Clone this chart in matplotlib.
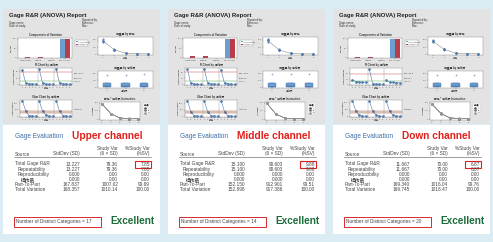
import matplotlib
matplotlib.use('Agg')
import matplotlib.pyplot as plt
from matplotlib.patches import Rectangle
import numpy as np

W, H = 493, 242

# ---------------- data ----------------
channels = ['Upper channel', 'Middle channel', 'Down channel']
sources = ['Total Gage R&R', 'Repeatability', 'Reproducibility', '操作员',
           'Part-To-Part', 'Total Variation']
stddev = [[13.227, 13.227, 0.000, 0.000, 167.837, 168.357],
          [15.100, 15.100, 0.000, 0.000, 152.150, 152.898],
          [11.667, 11.667, 0.000, 0.000, 169.340, 169.745]]
study_var = [[79.36, 79.36, 0.00, 0.00, 1007.02, 1010.14],
             [90.603, 90.603, 0.000, 0.000, 912.901, 917.386],
             [70.00, 70.00, 0.00, 0.00, 1016.04, 1018.47]]
study_var_dec = [2, 3, 2]
pct_sv = [[7.85, 7.85, 0.00, 0.00, 99.69, 100.00],
          [9.88, 9.88, 0.00, 0.00, 99.51, 100.00],
          [6.87, 6.87, 0.00, 0.00, 99.76, 100.00]]
ndc = [17, 14, 20]
rating = ['Excellent', 'Excellent', 'Excellent']

comp_cats = ['Gage R&R', 'Repeat', 'Reprod', 'Part-to-Part']
contrib = [[0.62, 0.62, 0.00, 99.38],
           [0.98, 0.98, 0.00, 99.02],
           [0.47, 0.47, 0.00, 99.53]]
comp_sv = [[7.85, 7.85, 0.00, 99.69],
           [9.88, 9.88, 0.00, 99.51],
           [6.87, 6.87, 0.00, 99.76]]
operators = ['A', 'B', 'C']
parts = [1, 2, 3, 4, 5]
part_means = [[470, 160, 30, 15, 10],
              [480, 150, 25, 10, 8],
              [460, 170, 35, 15, 12]]
r_values = [[55, 6, 4, 3, 3, 58, 5, 3, 2, 3, 60, 6, 4, 3, 2],
            [62, 5, 3, 2, 2, 64, 6, 3, 3, 2, 60, 5, 4, 2, 2],
            [22, 14, 12, 10, 11, 70, 5, 3, 3, 2, 20, 12, 10, 9, 8]]
xbar_values = [[470, 160, 30, 15, 10, 465, 158, 32, 14, 11, 472, 162, 29, 16, 9],
               [480, 150, 25, 10, 8, 478, 152, 26, 11, 9, 482, 149, 24, 12, 7],
               [460, 170, 35, 15, 12, 462, 168, 36, 14, 13, 458, 171, 34, 16, 11]]

# ---------------- style ----------------
BG = '#dcecf4'
GRAY = '#e3e3e3'
FONT = ['Liberation Sans', 'Noto Sans CJK SC', 'DejaVu Sans']
plt.rcParams['font.family'] = FONT
BLUE = '#6a9fcf'
RED = '#b83c4a'

fig = plt.figure(figsize=(W / 100, H / 100), dpi=100)
fig.patch.set_facecolor(BG)
base = fig.add_axes([0, 0, 1, 1])
base.set_xlim(0, W)
base.set_ylim(H, 0)
base.axis('off')


def add_ax(x, y, w, h):
    a = fig.add_axes([x / W, 1 - (y + h) / H, w / W, h / H])
    a.set_facecolor('white')
    a.tick_params(labelsize=1.6, length=0.8, width=0.3, pad=0.5, colors='#555555')
    for s in a.spines.values():
        s.set_linewidth(0.3)
        s.set_color('#888888')
    return a


def tiny(x, y, s, **kw):
    kw.setdefault('fontsize', 2.0)
    kw.setdefault('color', '#333333')
    base.text(x, y, s, **kw)


panel_x = [0, 165, 330]
for i, x0 in enumerate(panel_x):
    # screenshot area
    base.add_patch(Rectangle((x0 + 3, 9), 157, 115, facecolor=GRAY, edgecolor='none'))
    tiny(x0 + 9, 16, 'Gage R&R (ANOVA) Report', fontsize=4.3, fontweight='bold',
         color='#222222', va='center')
    tiny(x0 + 9, 23, 'Gage name:', va='center')
    tiny(x0 + 9, 26, 'Date of study:', va='center')
    tiny(x0 + 82, 20, 'Reported by:', va='center')
    tiny(x0 + 82, 23, 'Tolerance:', va='center')
    tiny(x0 + 82, 26, 'Misc:', va='center')

    # Components of variation
    a = add_ax(x0 + 18, 38, 54, 20)
    xi = np.arange(len(comp_cats))
    a.bar(xi - 0.18, contrib[i], 0.36, color=BLUE)
    a.bar(xi + 0.18, comp_sv[i], 0.36, color=RED)
    a.set_xticks(xi)
    a.set_xticklabels(comp_cats)
    a.set_yticks([0, 50, 100])
    a.set_ylabel('Percent', fontsize=1.6, labelpad=0.5)
    tiny(x0 + 45, 35, 'Components of Variation', ha='center', va='center', fontweight='bold')
    base.add_patch(Rectangle((x0 + 75, 40), 13, 6, facecolor='white',
                             edgecolor='#999999', lw=0.3))
    base.add_patch(Rectangle((x0 + 76, 41.2), 1.5, 1.3, facecolor=BLUE))
    base.add_patch(Rectangle((x0 + 76, 43.5), 1.5, 1.3, facecolor=RED))
    tiny(x0 + 78, 42, '% Contribution', fontsize=1.4, va='center')
    tiny(x0 + 78, 44.3, '% Study Var', fontsize=1.4, va='center')

    # R chart
    a = add_ax(x0 + 20, 68, 52, 17)
    r = np.array(r_values[i])
    rbar = r.mean()
    xs = np.arange(1, len(r) + 1)
    for k in range(3):
        seg = slice(k * 5, k * 5 + 5)
        a.plot(xs[seg], r[seg], color='#4a78b0', lw=0.4, marker='o', ms=0.9)
    a.axhline(rbar, color='#3a9a3a', lw=0.3)
    a.axhline(rbar * 3.27, color='#c03030', lw=0.3)
    for k in (5.5, 10.5):
        a.axvline(k, color='#999999', lw=0.3)
    a.set_xticks(xs)
    a.set_xticklabels([str(p) for p in parts] * 3)
    a.set_ylabel('Sample Range', fontsize=1.6, labelpad=0.5)
    tiny(x0 + 46, 65, 'R Chart by 操作员', ha='center', va='center', fontweight='bold')
    tiny(x0 + 74, 74, 'UCL=%.1f' % (rbar * 3.27), fontsize=1.6, va='center')
    tiny(x0 + 74, 78, 'R̄=%.2f' % rbar, fontsize=1.6, va='center')
    tiny(x0 + 74, 81, 'LCL=0', fontsize=1.6, va='center')
    tiny(x0 + 46, 88, '部件', ha='center', va='center', fontsize=1.8)

    # Xbar chart
    a = add_ax(x0 + 20, 100, 52, 17)
    xv = np.array(xbar_values[i])
    for k in range(3):
        seg = slice(k * 5, k * 5 + 5)
        a.plot(xs[seg], xv[seg], color='#4a78b0', lw=0.4, marker='o', ms=0.9)
    m = xv.mean()
    a.axhline(m, color='#3a9a3a', lw=0.3)
    a.axhline(m + 1.88 * rbar, color='#c03030', lw=0.3)
    a.axhline(m - 1.88 * rbar, color='#c03030', lw=0.3)
    for k in (5.5, 10.5):
        a.axvline(k, color='#999999', lw=0.3)
    a.set_xticks(xs)
    a.set_xticklabels([str(p) for p in parts] * 3)
    a.set_ylabel('Sample Mean', fontsize=1.6, labelpad=0.5)
    tiny(x0 + 46, 97, 'Xbar Chart by 操作员', ha='center', va='center', fontweight='bold')
    tiny(x0 + 74, 109, 'X̿=%.1f' % m, fontsize=1.6, va='center')
    tiny(x0 + 46, 120, '部件', ha='center', va='center', fontsize=1.8)

    # Y by part
    a = add_ax(x0 + 98, 37, 55, 18)
    a.plot(parts, part_means[i], color='#8a8a8a', lw=0.4, marker='o', ms=0.9,
           mfc='#4a78b0', mec='#4a78b0')
    for p, v in zip(parts, part_means[i]):
        a.plot([p, p], [v * 0.9, v * 1.1], 'o', color='#4a78b0', ms=0.5)
    a.set_xticks(parts)
    a.set_xlim(0.6, 5.4)
    a.set_ylim(-30, 600)
    a.set_yticks([0, 250, 500])
    tiny(x0 + 125, 34, '测量值 by 部件', ha='center', va='center', fontweight='bold')
    tiny(x0 + 125, 58, '部件', ha='center', va='center', fontsize=1.8)

    # Y by operator (boxplot)
    a = add_ax(x0 + 98, 71, 55, 17)
    groups = [xv[k * 5:k * 5 + 5] for k in range(3)]
    a.boxplot(groups, widths=0.45, patch_artist=True, whis=0.8,
              boxprops=dict(facecolor=BLUE, edgecolor='#4a78b0', lw=0.3),
              medianprops=dict(color='#2a4a80', lw=0.3),
              whiskerprops=dict(lw=0.3, color='#4a78b0'),
              capprops=dict(lw=0.3, color='#4a78b0'),
              flierprops=dict(marker='o', ms=0.8, mec='#4a78b0', mew=0.3))
    a.set_xticks([1, 2, 3])
    a.set_xticklabels(operators)
    a.set_ylim(-30, 600)
    a.set_yticks([0, 250, 500])
    tiny(x0 + 125, 68, '测量值 by 操作员', ha='center', va='center', fontweight='bold')
    tiny(x0 + 125, 91, '操作员', ha='center', va='center', fontsize=1.8)

    # Interaction
    a = add_ax(x0 + 100, 102, 40, 18)
    mk = ['o', 's', 'D']
    for k, g in enumerate(groups):
        a.plot(parts, g, color=['#555555', '#777777', '#999999'][k], lw=0.4,
               marker=mk[k], ms=0.8, label=operators[k])
    a.set_xticks(parts)
    a.set_ylim(-30, 520)
    a.set_yticks([0, 250, 500])
    a.set_ylabel('Average', fontsize=1.6, labelpad=0.5)
    lg = a.legend(fontsize=1.4, loc='upper left', bbox_to_anchor=(1.05, 1.0),
                  frameon=True, handlelength=1.2, borderpad=0.3, title='操作员',
                  title_fontsize=1.4)
    lg.get_frame().set_linewidth(0.3)
    tiny(x0 + 120, 99, '部件 * 操作员 Interaction', ha='center', va='center',
         fontweight='bold')

    # ---------------- table ----------------
    base.add_patch(Rectangle((x0 + 3, 125), 157, 109, facecolor='white', edgecolor='none'))
    base.text(x0 + 15, 136.5, 'Gage Evaluation', fontsize=4.7, color='#3d6da3',
              va='center')
    base.text(x0 + 72, 136, channels[i], fontsize=7.3, color='#e0201c',
              fontweight='bold', va='center')
    c1, c2, c3 = x0 + 80, x0 + 118, x0 + 150
    fs = 3.4
    tc = '#444444'
    base.text(c2, 148.5, 'Study Var', fontsize=fs, color=tc, ha='right', va='center')
    base.text(c3, 148.5, '%Study Var', fontsize=fs, color=tc, ha='right', va='center')
    base.text(x0 + 15, 154, 'Source', fontsize=fs, color=tc, va='center')
    base.text(c1, 154, 'StdDev (SD)', fontsize=fs, color=tc, ha='right', va='center')
    base.text(c2, 154, '(6 × SD)', fontsize=fs, color=tc, ha='right', va='center')
    base.text(c3, 154, '(%SV)', fontsize=fs, color=tc, ha='right', va='center')
    base.plot([x0 + 14, c3 + 1], [157, 157], color='#555555', lw=0.4)
    d = study_var_dec[i]
    for j, src in enumerate(sources):
        y = 164 + j * 5.1
        indent = 3 if j in (1, 2) else (6 if j == 3 else 0)
        base.text(x0 + 15 + indent, y, src, fontsize=fs, color=tc, va='center',
                  fontweight='bold' if j == 3 else 'normal')
        base.text(c1, y, '%.3f' % stddev[i][j], fontsize=fs, color=tc,
                  ha='right', va='center')
        base.text(c2, y, '%.*f' % (d, study_var[i][j]), fontsize=fs, color=tc,
                  ha='right', va='center')
        base.text(c3, y, '%.2f' % pct_sv[i][j], fontsize=fs, color=tc,
                  ha='right', va='center')
    base.add_patch(Rectangle((x0 + 135, 160.5), 16, 7, facecolor='none',
                             edgecolor='#e0201c', lw=0.8))
    base.text(x0 + 16, 222, 'Number of Distinct Categories = %d' % ndc[i],
              fontsize=fs, color=tc, va='center')
    base.add_patch(Rectangle((x0 + 13.5, 217), 87, 10, facecolor='none',
                             edgecolor='#d8282c', lw=0.7))
    base.text(x0 + 110, 221.5, rating[i], fontsize=7.2, color='#1c6b3a',
              fontweight='bold', va='center')

fig.savefig('out.png', dpi=100, facecolor=BG)
